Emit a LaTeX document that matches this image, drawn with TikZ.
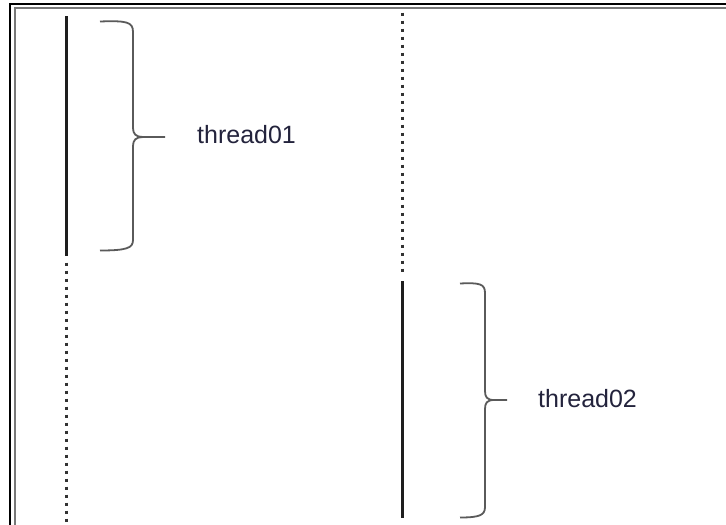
\documentclass[tikz,border=0pt]{standalone}
\usepackage{fontspec}
\setmainfont{Liberation Sans}
\definecolor{txtcol}{RGB}{35,35,60}
\definecolor{bracecol}{RGB}{90,90,90}
\definecolor{linecol}{RGB}{30,30,30}
\definecolor{dotcol}{RGB}{50,50,50}
\definecolor{framein}{RGB}{120,120,120}
\begin{document}
\begin{tikzpicture}[x=1pt,y=-1pt,
  solidline/.style={draw=linecol,line width=2.8pt},
  dotline/.style={draw=dotcol,line width=3pt,dash pattern=on 3pt off 5pt},
  bracepath/.style={draw=bracecol,line width=1.8pt,line join=round},
  label/.style={text=txtcol,font=\fontsize{25}{28}\selectfont,inner sep=0pt,anchor=base west}]
\useasboundingbox (0,0) rectangle (726,525);
\fill[white] (0,0) rectangle (726,525);
% frame (double line, top and left)
\draw[black,line width=2pt] (10.3,530) -- (10.3,3.7) -- (730,3.7);
\draw[framein,line width=2pt] (15,530) -- (15,8.3) -- (730,8.3);
% coordinates of lifelines
\coordinate (L1top) at (66.5,16);
\coordinate (L1end) at (66.5,256);
\coordinate (L1dot) at (66.5,262.5);
\coordinate (L1bot) at (66.5,528);
\coordinate (L2dot) at (402.7,12.5);
\coordinate (L2end) at (402.7,276);
\coordinate (L2top) at (402.7,281);
\coordinate (L2bot) at (402.7,518);
% lifelines
\draw[solidline] (L1top) -- (L1end);
\draw[dotline] (L1dot) -- (L1bot);
\draw[dotline] (L2dot) -- (L2end);
\draw[solidline] (L2top) -- (L2bot);
% brace 1
\draw[bracepath] (100,21.5) .. controls (127,20.5) and (133,22) .. (133,32)
  -- (133,128) .. controls (133,134) and (136,137) .. (143,137) -- (165,137)
  (143,137) .. controls (136,137) and (133,140) .. (133,146)
  -- (133,240) .. controls (133,248) and (127,250.5) .. (100,250.5);
% brace 2
\draw[bracepath] (460,283.5) .. controls (480,282.5) and (485,284) .. (485,293)
  -- (485,391) .. controls (485,397) and (487,400) .. (494,400) -- (507,400)
  (494,400) .. controls (487,400) and (485,403) .. (485,409)
  -- (485,507) .. controls (485,515) and (480,517.5) .. (460,517.5);
% labels
\node[label] (t1) at (197,143) {thread01};
\node[label] (t2) at (538,407) {thread02};
\end{tikzpicture}
\end{document}
